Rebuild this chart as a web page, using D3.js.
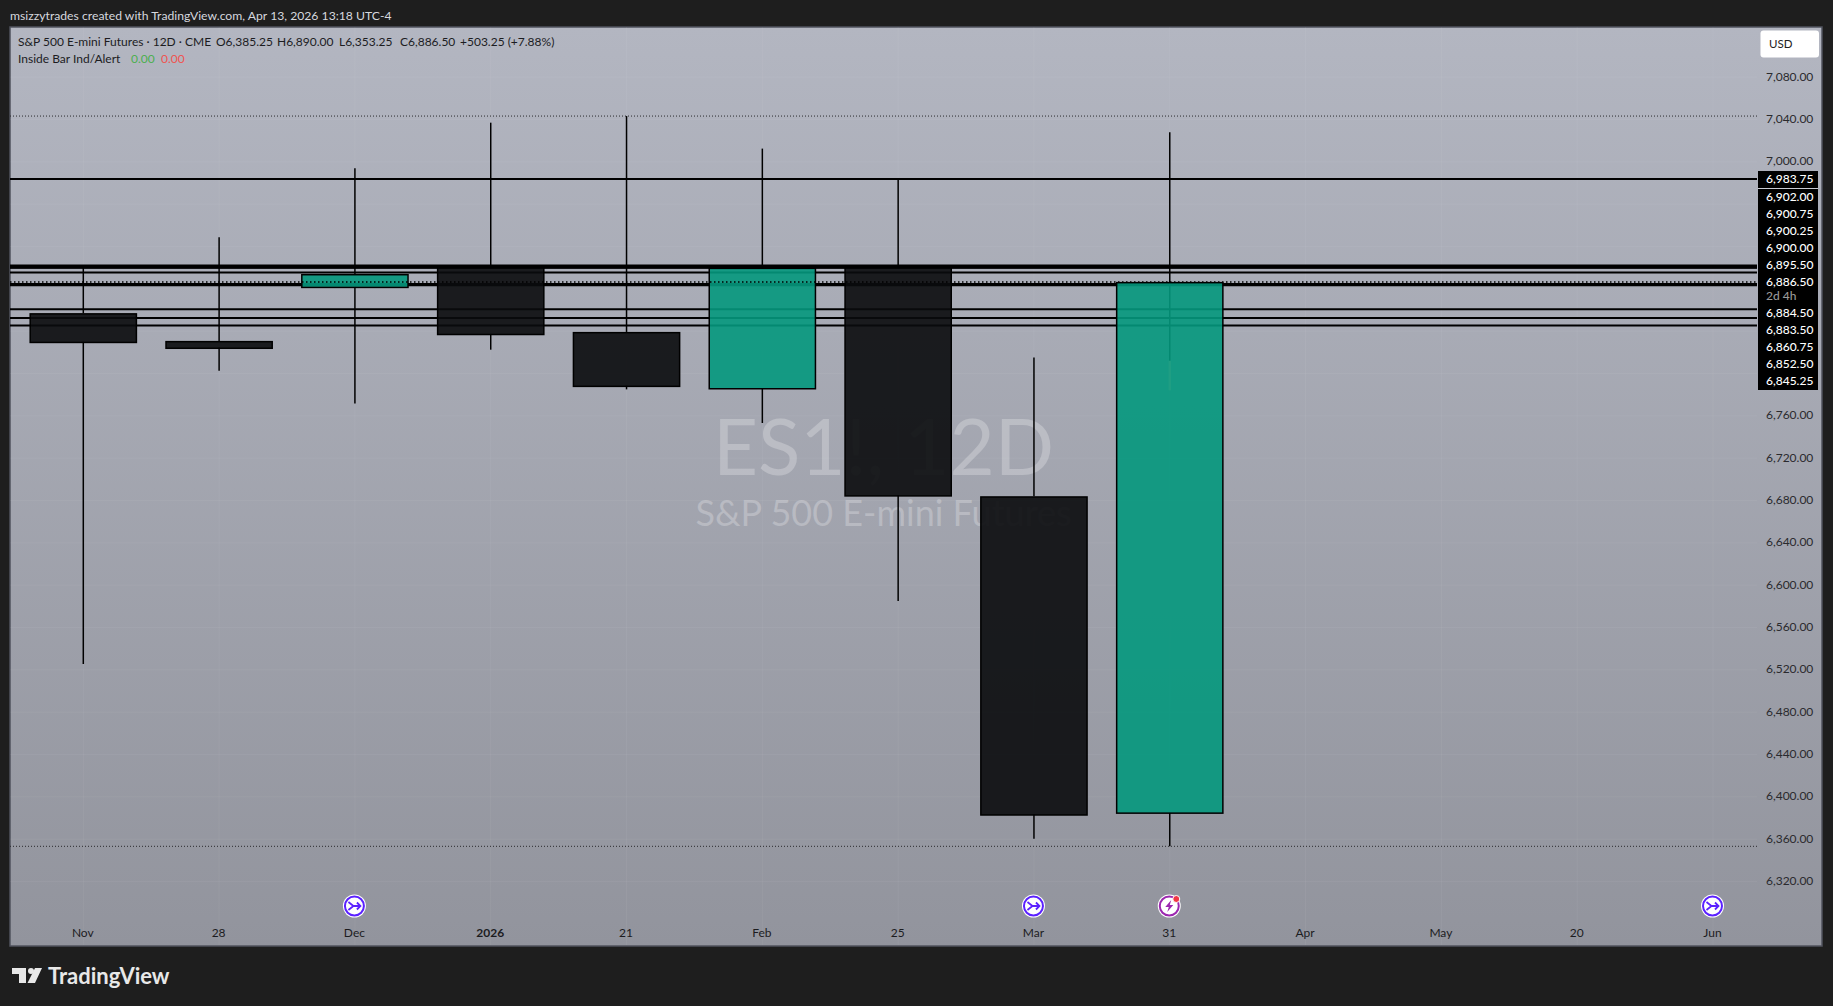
<!DOCTYPE html>
<html><head><meta charset="utf-8"><script src="https://cdn.jsdelivr.net/npm/d3@7"></script>
<style>html,body{margin:0;padding:0;background:#1e1e1e}svg{display:block}text{font-family:"Lato",sans-serif}</style></head>
<body><svg id="c" width="1833" height="1006"></svg>
<script>
const candleLabels = ["Nov","28","Dec","2026","21","Feb","25","Mar","31"];
const timeLabels = ["Nov","28","Dec","2026","21","Feb","25","Mar","31","Apr","May","20","Jun"];
const opens  = [6857,6830.75,6882,6900.5,6839.25,6786.25,6900.5,6684,6385.25];
const closes = [6830,6824.5,6894,6837.5,6788.5,6900,6685,6383.5,6886.5];
const highs  = [6902.5,6928.75,6994,7037,7043.25,7012.5,6983.75,6815,7028];
const lows   = [6525.5,6802.5,6771.75,6822.5,6785,6753.25,6585,6360.5,6353.25];
const levels = [6983.75,6902,6900.75,6900.25,6900,6895.5,6884.5,6883.5,6860.75,6852.5,6845.25];
const levelLabels = ["6,983.75","6,902.00","6,900.75","6,900.25","6,900.00","6,895.50","6,886.50","2d 4h","6,884.50","6,883.50","6,860.75","6,852.50","6,845.25"];
const priceTicks = [7080,7040,7000,6760,6720,6680,6640,6600,6560,6520,6480,6440,6400,6360,6320];
const gridPrices = [7080,7040,7000,6960,6920,6880,6840,6800,6760,6720,6680,6640,6600,6560,6520,6480,6440,6400,6360,6320];
const extremes = [7043.25,6353.25];
const lastPrice = 6886.5;
const innerWick = [7028,6812,6784];
const eventIdx = [2,7,8,12];
const eventKind = ["d","d","e","d"];

const svg = d3.select("#c");
const L=10,R=1822,T=27,B=945,AX=1757;
const x = d3.scaleLinear().domain([0,12]).range([83.3,1713]);
const y = d3.scaleLinear().domain([7127.4,6260]).range([T,B]);
const bw = x(0.782)-x(0);
const bodyShift = 0.7;
const defs = svg.append("defs");
const g = defs.append("linearGradient").attr("id","bg").attr("x1",0).attr("y1",0).attr("x2",0).attr("y2",1);
g.append("stop").attr("offset",0).attr("stop-color","#b3b6c1");
g.append("stop").attr("offset",1).attr("stop-color","#92949d");
defs.append("clipPath").attr("id","pl").append("rect").attr("x",L).attr("y",T).attr("width",AX-L).attr("height",B-T+1);

svg.append("rect").attr("width",1833).attr("height",1006).attr("fill","#1e1e1e");
svg.append("rect").attr("x",L).attr("y",T).attr("width",R-L).attr("height",B-T+1).attr("fill","url(#bg)").attr("stroke","#50535e").attr("stroke-width",1.5);

// header
svg.append("text").attr("x",10).attr("y",19.5).attr("fill","#d6d8de").attr("font-size",12.2).text("msizzytrades created with TradingView.com, Apr 13, 2026 13:18 UTC-4");

// grid
const grid = svg.append("g").attr("stroke","#fff").attr("stroke-opacity",.05).attr("stroke-width",1);
grid.selectAll("line.v").data(timeLabels).join("line").attr("x1",(d,i)=>x(i)).attr("x2",(d,i)=>x(i)).attr("y1",T).attr("y2",B);
grid.selectAll("line.h").data(gridPrices).join("line").attr("x1",L).attr("x2",AX).attr("y1",d=>y(d)).attr("y2",d=>y(d));

// watermark
const cx=(L+AX)/2;
svg.append("text").attr("x",cx).attr("y",475).attr("text-anchor","middle").attr("font-size",78).attr("fill","#fff").attr("fill-opacity",.25).text("ES1!, 12D");
svg.append("text").attr("x",cx).attr("y",526).attr("text-anchor","middle").attr("font-size",36).attr("fill","#fff").attr("fill-opacity",.25).text("S&P 500 E-mini Futures");

const plot = svg.append("g").attr("clip-path","url(#pl)");
// levels
plot.selectAll("line.lv").data(levels).join("line").attr("x1",L).attr("x2",AX).attr("y1",d=>y(d)).attr("y2",d=>y(d)).attr("stroke","#000").attr("stroke-width",2);
plot.selectAll("line.ex").data(extremes).join("line").attr("x1",L).attr("x2",AX).attr("y1",d=>y(d)).attr("y2",d=>y(d)).attr("stroke","#2a2a2e").attr("stroke-width",1).attr("stroke-dasharray","1 2");

// candles: wicks stop at the body
const idx = candleLabels.map((d,i)=>i);
const wick = (sel,a,b)=>sel.attr("x1",i=>x(i)).attr("x2",i=>x(i)).attr("y1",a).attr("y2",b).attr("stroke","#000").attr("stroke-width",1.5);
wick(plot.selectAll("line.up").data(idx).join("line"),i=>y(highs[i]),i=>y(Math.max(opens[i],closes[i])));
wick(plot.selectAll("line.dn").data(idx).join("line"),i=>y(Math.min(opens[i],closes[i])),i=>y(lows[i]));
plot.append("line").attr("x1",x(8)).attr("x2",x(8)).attr("y1",y(closes[8])).attr("y2",y(innerWick[1])).attr("stroke","#000").attr("stroke-width",1.5);
plot.selectAll("rect.bd").data(idx).join("rect")
  .attr("x",i=>x(i)-bw/2).attr("width",bw)
  .attr("y",i=>y(Math.max(opens[i],closes[i]))+bodyShift).attr("height",i=>Math.abs(y(opens[i])-y(closes[i])))
  .attr("fill",i=>closes[i]>opens[i]?"rgb(4,152,125)":"rgb(10,11,13)").attr("fill-opacity",.9)
  .attr("stroke","#000").attr("stroke-width",1.5);
plot.append("line").attr("x1",x(8)).attr("x2",x(8)).attr("y1",y(innerWick[1])).attr("y2",y(innerWick[2])).attr("stroke","#27a184").attr("stroke-width",2.5).attr("stroke-opacity",.6);
plot.append("line").attr("x1",L).attr("x2",AX).attr("y1",y(lastPrice)).attr("y2",y(lastPrice)).attr("stroke","#000").attr("stroke-width",1.5).attr("stroke-dasharray","1.5 2.5");

// price axis
const ya = d3.axisRight(y).tickValues(priceTicks).tickSize(0).tickPadding(0).tickFormat(d3.format(",.2f"));
const yG = svg.append("g").attr("transform","translate(1766,-1)").call(ya);
yG.select(".domain").remove();
yG.selectAll("text").attr("font-size",12).attr("fill","#2a2a2e").attr("font-family",'"Lato",sans-serif');

// label stack
const stackTop=171, stackBottom=390;
svg.append("rect").attr("x",1758).attr("y",stackTop).attr("width",60).attr("height",stackBottom-stackTop).attr("fill","#000");
svg.append("line").attr("x1",1758).attr("x2",1818).attr("y1",188.5).attr("y2",188.5).attr("stroke","#c8cad2").attr("stroke-width",1);
const stackY=[179,196.7,214,231,248,265,282,296,313,330,347,364,381];
svg.selectAll("text.st").data(levelLabels).join("text").attr("x",1766).attr("y",(d,i)=>stackY[i]).attr("dy","0.35em")
  .attr("font-size",12).attr("font-weight",500).attr("fill",d=>d==="2d 4h"?"#9a9a9a":"#fff").text(d=>d);

// USD
svg.append("rect").attr("x",1760.5).attr("y",30.5).attr("width",58.5).attr("height",27).attr("rx",3).attr("fill","#fff");
svg.append("text").attr("x",1769).attr("y",48).attr("font-size",11.5).attr("fill","#222").text("USD");

// legend
const leg=(t,xx,yy,c)=>svg.append("text").attr("x",xx).attr("y",yy).attr("font-size",12).attr("fill",c||"#1c1c1f").text(t);
leg("S&P 500 E-mini Futures · 12D · CME",18,46);
leg("O6,385.25",216,46);leg("H6,890.00",277,46);leg("L6,353.25",339,46);leg("C6,886.50",400,46);leg("+503.25 (+7.88%)",460,46);
leg("Inside Bar Ind/Alert",18,63);leg("0.00",131,63,"#4caf50");leg("0.00",161,63,"#ef5350");

// time axis
const xa = d3.axisBottom(x).tickValues(timeLabels.map((d,i)=>i)).tickSize(0).tickPadding(0).tickFormat(i=>timeLabels[i]);
const xG = svg.append("g").attr("transform","translate(-1,928)").call(xa);
xG.select(".domain").remove();
xG.selectAll("text").attr("font-size",12).attr("fill","#1c1c1f").attr("font-family",'"Lato",sans-serif')
  .attr("font-weight",(i)=>timeLabels[i]==="2026"?700:400);

// event icons
const ev = svg.selectAll("g.ev").data(eventIdx).join("g").attr("transform",i=>`translate(${x(i)-0.5},906)`);
ev.append("circle").attr("r",11.5).attr("fill","#fff");
ev.append("circle").attr("r",9.5).attr("fill","none").attr("stroke",(d,i)=>eventKind[i]==="e"?"#9c27b0":"#5b21ff").attr("stroke-width",2);
ev.filter((d,i)=>eventKind[i]==="d").append("path").attr("d","M-6,-4 L-1,0 L-6,4 M-1,0 L6,0 M2.5,-3.5 L6,0 L2.5,3.5").attr("fill","none").attr("stroke","#5b21ff").attr("stroke-width",1.8);
ev.filter((d,i)=>eventKind[i]==="e").append("path").attr("d","M2,-6 L-4,1 L-0.5,1 L-2,6 L4,-1 L0.5,-1 Z").attr("fill","#9c27b0");
ev.filter((d,i)=>eventKind[i]==="e").append("circle").attr("cx",7).attr("cy",-7).attr("r",3.5).attr("fill","#f23645").attr("stroke","#fff").attr("stroke-width",1);

// logo
const logo=svg.append("g").attr("fill","#e8e8e8");
logo.append("path").attr("d","M12,968 H26 V983 H19 V974 H12 Z");
logo.append("circle").attr("cx",31).attr("cy",971).attr("r",3);
logo.append("path").attr("d","M35,968 H42 L35,983 H27.5 Z");
svg.append("text").attr("x",48).attr("y",984).attr("font-size",22).attr("font-weight",700).attr("fill","#e8e8e8").text("TradingView");
</script></body></html>
